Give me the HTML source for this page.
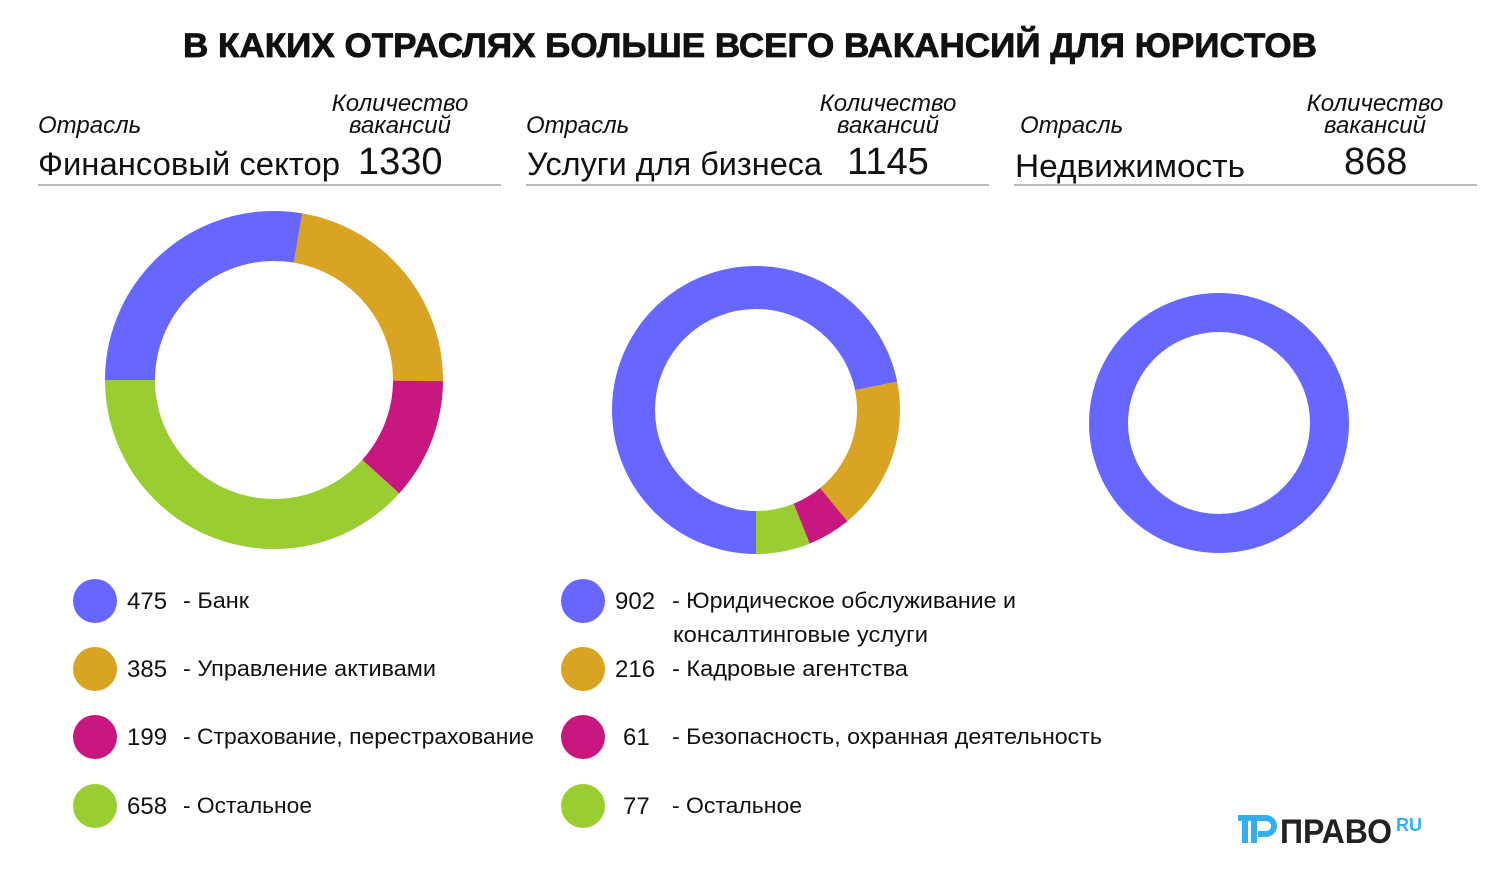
<!DOCTYPE html>
<html><head><meta charset="utf-8"><style>
body{margin:0;background:#fff;}
svg text{font-family:"Liberation Sans",sans-serif;fill:#111;}
</style></head><body>
<svg width="1500" height="875" viewBox="0 0 1500 875" xmlns="http://www.w3.org/2000/svg">
<text x="750" y="57" text-anchor="middle" font-size="34" font-weight="bold" textLength="1134" lengthAdjust="spacingAndGlyphs" stroke="#111" stroke-width="0.8">В КАКИХ ОТРАСЛЯХ БОЛЬШЕ ВСЕГО ВАКАНСИЙ ДЛЯ ЮРИСТОВ</text>

<g font-style="italic" font-size="24" fill="#222">
<text x="38" y="133">Отрасль</text>
<text x="400" y="111" text-anchor="middle">Количество</text>
<text x="400" y="133" text-anchor="middle">вакансий</text>
<text x="526" y="133">Отрасль</text>
<text x="888" y="111" text-anchor="middle">Количество</text>
<text x="888" y="133" text-anchor="middle">вакансий</text>
<text x="1020" y="133">Отрасль</text>
<text x="1375" y="111" text-anchor="middle">Количество</text>
<text x="1375" y="133" text-anchor="middle">вакансий</text>
</g>
<g font-size="32">
<text x="38" y="175" textLength="302" lengthAdjust="spacingAndGlyphs">Финансовый сектор</text>
<text x="358" y="174" font-size="38">1330</text>
<text x="527" y="175" textLength="295" lengthAdjust="spacingAndGlyphs">Услуги для бизнеса</text>
<text x="847" y="174" font-size="38">1145</text>
<text x="1015" y="177" textLength="230" lengthAdjust="spacingAndGlyphs">Недвижимость</text>
<text x="1344" y="174" font-size="38">868</text>
</g>
<g stroke="#bbb" stroke-width="2">
<line x1="38" y1="185" x2="501" y2="185"/>
<line x1="526" y1="185" x2="989" y2="185"/>
<line x1="1014" y1="185" x2="1477" y2="185"/>
</g>

<g transform="translate(274,380) rotate(180)" fill="none" stroke-width="50">
<circle r="144" stroke="#6767FF" stroke-dasharray="250.3 1000" stroke-dashoffset="0"/>
<circle r="144" stroke="#D9A423" stroke-dasharray="202.9 1000" stroke-dashoffset="-250.3"/>
<circle r="144" stroke="#C8177F" stroke-dasharray="104.9 1000" stroke-dashoffset="-453.2"/>
<circle r="144" stroke="#9ACD32" stroke-dasharray="346.7 1000" stroke-dashoffset="-558.1"/>
</g>
<g transform="translate(756,410) rotate(90)" fill="none" stroke-width="43">
<circle r="122.5" stroke="#6767FF" stroke-dasharray="552.8 1000" stroke-dashoffset="0"/>
<circle r="122.5" stroke="#D9A423" stroke-dasharray="132.4 1000" stroke-dashoffset="-552.8"/>
<circle r="122.5" stroke="#C8177F" stroke-dasharray="37.4 1000" stroke-dashoffset="-685.2"/>
<circle r="122.5" stroke="#9ACD32" stroke-dasharray="47.2 1000" stroke-dashoffset="-722.6"/>
</g>
<circle cx="1219" cy="423" r="110.5" fill="none" stroke="#6767FF" stroke-width="39"/>

<g>
<circle cx="95" cy="601" r="22" fill="#6767FF"/>
<circle cx="95" cy="669" r="22" fill="#D9A423"/>
<circle cx="95" cy="737" r="22" fill="#C8177F"/>
<circle cx="95" cy="806" r="22" fill="#9ACD32"/>
<circle cx="583" cy="601" r="22" fill="#6767FF"/>
<circle cx="583" cy="669" r="22" fill="#D9A423"/>
<circle cx="583" cy="737" r="22" fill="#C8177F"/>
<circle cx="583" cy="806" r="22" fill="#9ACD32"/>
</g>
<g font-size="24">
<text x="127" y="609">475</text><text x="183" y="608" font-size="22" textLength="66" lengthAdjust="spacingAndGlyphs">- Банк</text>
<text x="127" y="677">385</text><text x="183" y="676" font-size="22" textLength="253" lengthAdjust="spacingAndGlyphs">- Управление активами</text>
<text x="127" y="745">199</text><text x="183" y="744" font-size="22" textLength="351" lengthAdjust="spacingAndGlyphs">- Страхование, перестрахование</text>
<text x="127" y="814">658</text><text x="183" y="813" font-size="22" textLength="129" lengthAdjust="spacingAndGlyphs">- Остальное</text>
<text x="615" y="609">902</text><text x="672" y="608" font-size="22" textLength="344" lengthAdjust="spacingAndGlyphs">- Юридическое обслуживание и</text>
<text x="673" y="642" font-size="22" textLength="255" lengthAdjust="spacingAndGlyphs">консалтинговые услуги</text>
<text x="615" y="677">216</text><text x="672" y="676" font-size="22" textLength="236" lengthAdjust="spacingAndGlyphs">- Кадровые агентства</text>
<text x="623" y="745">61</text><text x="672" y="744" font-size="22" textLength="430" lengthAdjust="spacingAndGlyphs">- Безопасность, охранная деятельность</text>
<text x="623" y="814">77</text><text x="672" y="813" font-size="22" textLength="130" lengthAdjust="spacingAndGlyphs">- Остальное</text>
</g>

<g>
<path d="M1238 815 h28 a11 11 0 0 1 0 22 h-8 v-6 h8 a5 5 0 0 0 0 -10 h-28 z" fill="#35AEEF"/>
<rect x="1242" y="821" width="6" height="22" fill="#35AEEF"/>
<rect x="1251" y="821" width="6" height="22" fill="#35AEEF"/>
<text x="1280" y="843" font-size="34" font-weight="bold" textLength="112" lengthAdjust="spacingAndGlyphs" style="fill:#222">ПРАВО</text>
<text x="1396" y="831" font-size="18" font-weight="bold" style="fill:#35AEEF">RU</text>
</g>
</svg>
</body></html>
